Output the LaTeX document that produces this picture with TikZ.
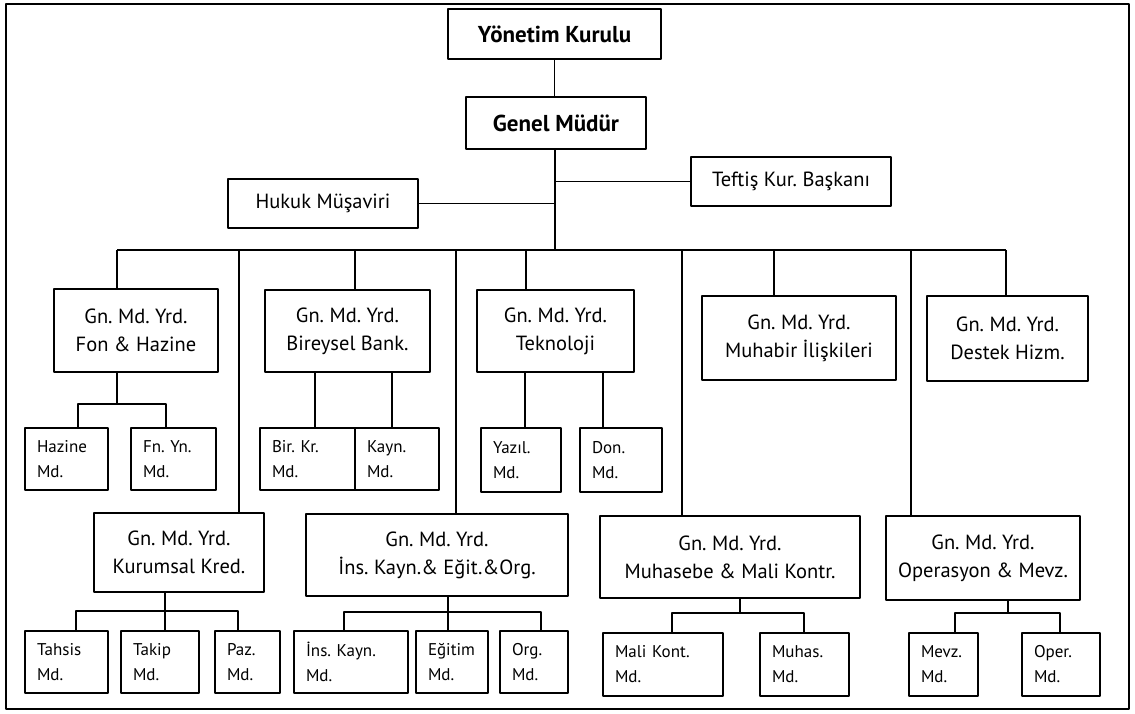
\documentclass[tikz,border=0pt]{standalone}
\usepackage{fontspec}
\setmainfont{PT Sans}
\frenchspacing
\begin{document}
\begin{tikzpicture}[line join=bevel,
  box/.style={draw,line width=1.8bp,inner sep=0pt,align=center,font=\fontsize{20.5bp}{28bp}\selectfont},
  bold/.style={box,font=\fontsize{23bp}{28bp}\selectfont\bfseries},
  leaf/.style={draw,line width=1.8bp,inner xsep=12bp,inner ysep=0pt,align=left,font=\fontsize{17bp}{25bp}\selectfont},
  link/.style={line width=1.8bp}]
\useasboundingbox (0bp,0bp) rectangle (1135bp,714bp);
\draw [line width=2.8bp] (6bp,5bp) rectangle (1129bp,710bp);
%%
\node (yonetim) at (554.5bp,680bp) [bold,minimum width=213bp,minimum height=50bp] {Yönetim Kurulu};
  \node (genel) at (556bp,591bp) [bold,minimum width=180bp,minimum height=52bp] {Genel Müdür};
  \node (teftis) at (791bp,532.5bp) [box,minimum width=200bp,minimum height=49bp] {Teftiş Kur. Başkanı};
  \node (hukuk) at (323bp,510.5bp) [box,minimum width=190bp,minimum height=49bp] {Hukuk Müşaviri};
  \node (fon) at (136bp,383.5bp) [box,minimum width=164bp,minimum height=83bp] {Gn. Md. Yrd.\\Fon \& Hazine};
  \node (bireysel) at (347.5bp,383bp) [box,minimum width=165bp,minimum height=82bp] {Gn. Md. Yrd.\\Bireysel Bank.};
  \node (teknoloji) at (555.5bp,383bp) [box,minimum width=157bp,minimum height=82bp] {Gn. Md. Yrd.\\Teknoloji};
  \node (muhabir) at (799bp,376bp) [box,minimum width=194bp,minimum height=84bp] {Gn. Md. Yrd.\\Muhabir İlişkileri};
  \node (destek) at (1007.5bp,375.5bp) [box,minimum width=161bp,minimum height=85bp] {Gn. Md. Yrd.\\Destek Hizm.};
  \node (hazine) at (66.5bp,255bp) [leaf,text width=59bp,minimum height=62bp] {Hazine\\Md.};
  \node (fnyn) at (173.5bp,255bp) [leaf,text width=61bp,minimum height=62bp] {Fn. Yn.\\Md.};
  \node (birkr) at (307.5bp,255bp) [leaf,text width=71bp,minimum height=62bp] {Bir. Kr.\\Md.};
  \node (kayn) at (397bp,255bp) [leaf,text width=60bp,minimum height=62bp] {Kayn.\\Md.};
  \node (yazil) at (521bp,254bp) [leaf,text width=56bp,minimum height=64bp] {Yazıl.\\Md.};
  \node (don) at (621bp,254bp) [leaf,text width=58bp,minimum height=64bp] {Don.\\Md.};
  \node (kurumsal) at (179bp,161.5bp) [box,minimum width=170bp,minimum height=79bp] {Gn. Md. Yrd.\\Kurumsal Kred.};
  \node (ins) at (437bp,159bp) [box,minimum width=262bp,minimum height=82bp] {Gn. Md. Yrd.\\İns. Kayn.\& Eğit.\&Org.};
  \node (muhasebe) at (730bp,157bp) [box,minimum width=260bp,minimum height=82bp] {Gn. Md. Yrd.\\Muhasebe \& Mali Kontr.};
  \node (operasyon) at (983bp,156bp) [box,minimum width=194bp,minimum height=84bp] {Gn. Md. Yrd.\\Operasyon \& Mevz.};
  \node (tahsis) at (66.5bp,52bp) [leaf,text width=59bp,minimum height=62bp] {Tahsis\\Md.};
  \node (takip) at (160bp,52bp) [leaf,text width=54bp,minimum height=62bp] {Takip\\Md.};
  \node (paz) at (247.5bp,52bp) [leaf,text width=41bp,minimum height=62bp] {Paz.\\Md.};
  \node (inskayn) at (351bp,52bp) [leaf,text width=90bp,minimum height=62bp] {İns. Kayn.\\Md.};
  \node (egitim) at (452bp,52bp) [leaf,text width=48bp,minimum height=62bp] {Eğitim\\Md.};
  \node (org) at (534bp,52bp) [leaf,text width=44bp,minimum height=62bp] {Org.\\Md.};
  \node (malikont) at (663bp,49.5bp) [leaf,text width=96bp,minimum height=63bp] {Mali Kont.\\Md.};
  \node (muhas) at (804.5bp,49.5bp) [leaf,text width=65bp,minimum height=63bp] {Muhas.\\Md.};
  \node (mevz) at (943.5bp,49.5bp) [leaf,text width=45bp,minimum height=63bp] {Mevz.\\Md.};
  \node (oper) at (1061bp,49.5bp) [leaf,text width=54bp,minimum height=63bp] {Oper.\\Md.};
  \coordinate (trunk) at (555bp,464bp);
  \coordinate (busl) at (117bp,464bp);
  \coordinate (busr) at (1006bp,464bp);
  \draw [link] (yonetim.south) -- (yonetim.south |- genel.north);
  \draw [link] (genel.south -| trunk) -- (trunk);
  \draw [link] (teftis.west) -- (teftis.west -| trunk);
  \draw [link] (hukuk.east) -- (hukuk.east -| trunk);
  \draw [link] (busl) -- (busr);
  \foreach \x/\n in {117/fon,355/bireysel,526/teknoloji,774/muhabir,1006/destek,239/kurumsal,456/ins,682/muhasebe,911/operasyon}
    {\coordinate (drop) at (\x bp,464bp);
     \draw [link] (drop) -- (drop |- \n.north);}
  \coordinate (fonl) at (78bp,310bp);
  \coordinate (fonr) at (166bp,310bp);
  \draw [link] (busl |- fon.south) -- (busl |- fonl);
  \draw [link] (fonl |- hazine.north) -- (fonl) -- (fonr) -- (fonr |- fnyn.north);
  \foreach \s/\n/\p in {7.5bp/birkr/bireysel,-5bp/kayn/bireysel,4bp/yazil/teknoloji,-18bp/don/teknoloji}
    \draw [link] ([xshift=\s]\n.north) -- ([xshift=\s]\n.north |- \p.south);
  \coordinate (kurl) at (76bp,103bp);
  \coordinate (kurm) at (165bp,103bp);
  \coordinate (kurr) at (238bp,103bp);
  \draw [link] (kurl |- tahsis.north) -- (kurl) -- (kurr) -- (kurr |- paz.north);
  \draw [link] (kurm |- kurumsal.south) -- (kurm |- takip.north);
  \coordinate (insl) at (344bp,102bp);
  \coordinate (insm) at (448bp,102bp);
  \coordinate (insr) at (541bp,102bp);
  \draw [link] (insl |- inskayn.north) -- (insl) -- (insr) -- (insr |- org.north);
  \draw [link] (insm |- ins.south) -- (insm |- egitim.north);
  \coordinate (muhl) at (672bp,101bp);
  \coordinate (muhm) at (740bp,101bp);
  \coordinate (muhr) at (804bp,101bp);
  \draw [link] (muhl |- malikont.north) -- (muhl) -- (muhr) -- (muhr |- muhas.north);
  \draw [link] (muhm |- muhasebe.south) -- (muhm);
  \coordinate (opl) at (955bp,101bp);
  \coordinate (opm) at (1008bp,101bp);
  \coordinate (opr) at (1060bp,101bp);
  \draw [link] (opl |- mevz.north) -- (opl) -- (opr) -- (opr |- oper.north);
  \draw [link] (opm |- operasyon.south) -- (opm);
%
\end{tikzpicture}
\end{document}
